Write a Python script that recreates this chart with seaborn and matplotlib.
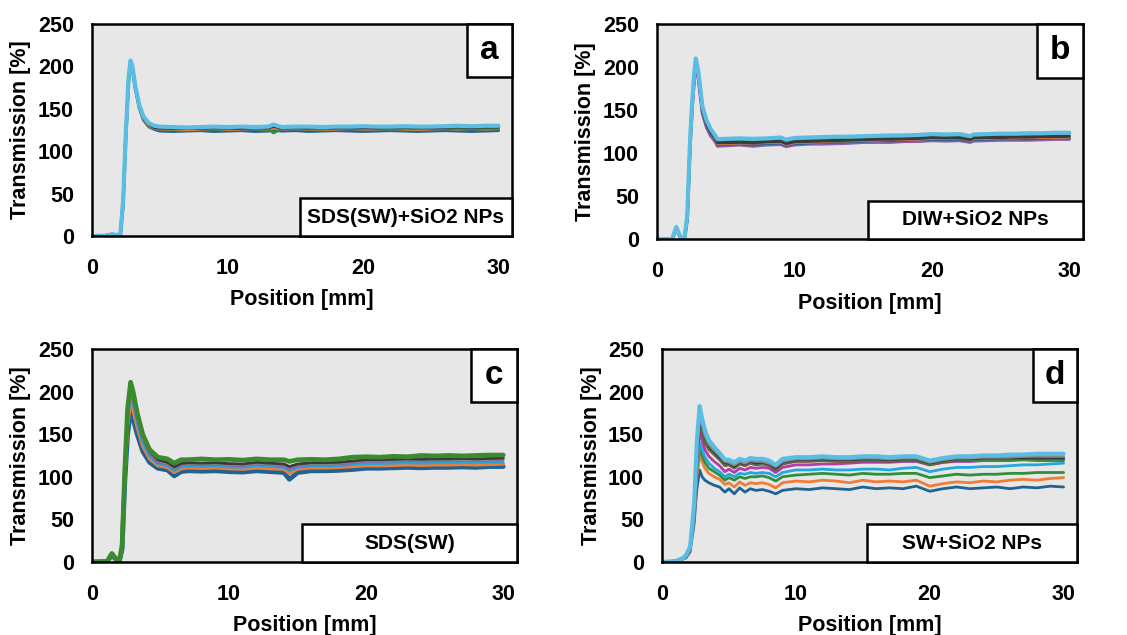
import matplotlib
matplotlib.use("Agg")
import matplotlib.pyplot as plt
from matplotlib.patches import Rectangle
import pandas as pd
import seaborn as sns

# ---------------- data: transmission profiles [%] vs position [mm] ----------------
# (a) SDS(SW)+SiO2 NPs
POS_A = [0, 1.0, 1.5, 1.8, 2.1, 2.3, 2.5, 2.7, 2.85, 3.0, 3.2, 3.5, 3.8, 4.2, 4.6,
         5, 6, 7, 8, 9, 10, 11, 12, 13, 13.4, 14, 15, 16, 17, 18, 19, 20, 21, 22,
         23, 24, 25, 26, 27, 28, 29, 30]
A_BLUE = [0, 0.5, 1.5, 1, 2, 38, 118, 182, 204, 196, 174, 151, 137, 129, 126,
          124, 123.5, 124, 124.5, 123.5, 124, 124.5, 123.5, 124, 125, 124, 124.5, 123.5,
          124, 124.5, 124, 123.5, 124, 124.5, 124, 123.5, 124, 124.5, 124, 123.5, 124, 124.5]
A_ORANGE = [0, 0.5, 2, 1, 2.5, 40, 120, 184, 205, 197, 175, 152, 138, 130, 127,
            126, 125.5, 125, 126, 126.5, 125.5, 126, 126.5, 125.5, 127, 126, 126.5, 126,
            125.5, 126, 126.5, 126, 126, 126.5, 126, 125.5, 126, 126.5, 126, 126.5, 126, 126.5]
A_GREEN = [0, 0.5, 2, 1, 2.5, 39, 119, 183, 205, 197, 175, 152, 139, 131, 127.5,
           126.5, 126, 126.5, 127, 126, 126.5, 127, 126.5, 126, 121.5, 126.5, 127, 126.5,
           126, 127, 126.5, 127, 126.5, 126, 127, 126.5, 127, 126.5, 127, 126.5, 127, 127]
A_DARK = [0, 0.5, 2.5, 1, 3, 41, 121, 186, 206, 198, 177, 154, 140, 132, 128,
          127.5, 127, 127.5, 127, 128, 127.5, 127, 128, 127.5, 129, 127.5, 128, 127.5,
          128, 127.5, 128, 128, 127.5, 128, 128.5, 128, 127.5, 128, 128.5, 128, 128.5, 128.5]
A_CYAN = [0, 0.5, 2, 1, 3, 42, 122, 187, 207, 199, 177, 154, 141, 133, 130,
          129, 128.5, 128, 128.5, 129, 128.5, 129, 128.5, 129, 131.5, 128.5, 129, 129,
          128.5, 129, 129, 129.5, 129, 129, 129.5, 129, 129, 129.5, 130, 129.5, 130, 130]

# (b) DIW+SiO2 NPs
POS_B = [0, 1.1, 1.4, 1.7, 2.0, 2.2, 2.4, 2.55, 2.7, 2.82, 3.0, 3.3, 3.6, 3.9, 4.2, 4.4,
         5, 6, 7, 8, 9, 9.4, 10, 11, 12, 13, 14, 15, 16, 17, 18, 19, 20, 21, 22, 22.8,
         23, 24, 25, 26, 27, 28, 29, 30]
B_PURPLE = [0, 0, 12, 2, 1, 23, 106, 150, 183, 203, 187, 146, 130, 120, 114, 108,
            108.5, 109.5, 108, 109.5, 110, 107.5, 109.5, 110.5, 110.5, 111, 111.5, 112.5,
            112.5, 112.5, 113.5, 113.5, 114.5, 114, 114.5, 112.5, 114, 114.5, 115, 115,
            115, 115.5, 116, 116]
B_BLUE = [0, 0, 12, 2, 1, 24, 108, 152, 185, 205, 189, 148, 132, 122, 116, 110,
          110, 110.5, 109.5, 111, 111.5, 109, 111, 111.5, 112.5, 112.5, 113, 113.5,
          114.5, 114, 114.5, 115.5, 116, 115.5, 116, 113.5, 115.5, 116, 116.5, 116.5,
          116.5, 117, 117.5, 117.5]
B_ORANGE = [0, 0, 13, 2, 1, 25, 109, 154, 187, 206, 190, 149, 133, 123, 117, 111,
            111, 111.5, 111.5, 112, 112.5, 110, 112, 112.5, 113, 114, 114, 114.5,
            115, 115.5, 115.5, 116, 117, 116.5, 117.5, 114.5, 116.5, 117, 117.5, 117.5,
            118, 118, 118, 118.5]
B_DARK = [0, 0, 13, 2, 1, 25, 110, 155, 188, 207, 191, 150, 134, 124, 118, 112,
          112, 112.5, 112, 113, 113.5, 111, 113, 113.5, 114, 114.5, 115, 115.5,
          116, 116, 116.5, 117, 118, 117.5, 118, 115.5, 117.5, 118, 118, 118.5,
          118.5, 119, 119, 119.5]
B_GREEN = [0, 0, 13, 2, 1, 26, 111, 156, 189, 208, 192, 151, 135, 125, 119, 113.5,
           113.5, 114, 113, 114.5, 115, 112.5, 114, 115, 115.5, 116, 116, 117,
           117.5, 117, 118, 118.5, 119.5, 119, 119.5, 117, 119, 119.5, 119.5, 120,
           120, 120.5, 120.5, 121]
B_CYAN = [0, 0, 14, 2, 1, 28, 114, 158, 192, 210, 195, 154, 138, 128, 121, 116,
          116.5, 117, 116.5, 117, 118, 115.5, 117.5, 118, 118.5, 119, 119, 119.5,
          120, 120.5, 120.5, 121, 122, 121.5, 122, 119.5, 121.5, 122, 122.5, 122.5,
          123, 123, 123.5, 123.5]

# (c) SDS(SW)
POS_C = [0, 1.1, 1.45, 1.8, 2.0, 2.2, 2.4, 2.6, 2.82, 3.0, 3.3, 3.7, 4.2, 4.8,
         5.5, 6.0, 6.5, 7, 8, 9, 10, 11, 12, 13, 14, 14.4, 15, 16, 17, 18, 19, 20,
         21, 22, 23, 24, 25, 26, 27, 28, 29, 30]
C_BLUE = [0, 0.5, 8, 2, 1, 15, 95, 150, 178, 168, 150, 130, 117, 110,
          108, 101, 106, 107, 106.5, 107, 106, 105.5, 107, 106, 105, 97, 105, 107,
          107, 107.5, 108.5, 110, 110, 110.5, 111, 110.5, 111, 111, 111.5, 111, 112, 112]
C_ORANGE = [0, 0.5, 9, 2, 1, 16, 100, 160, 188, 178, 158, 136, 121, 113,
            111, 105, 109.5, 110.5, 110, 110.5, 109.5, 109, 110.5, 109.5, 109, 104, 109,
            110.5, 110.5, 111, 112, 113, 113, 113.5, 114, 113.5, 114, 114, 114.5, 114,
            114.5, 115]
C_CYAN = [0, 0.5, 9, 2, 1, 17, 102, 165, 195, 185, 163, 140, 124, 115,
          113, 107, 111.5, 112.5, 112, 112.5, 111.5, 111, 113, 112, 111, 107, 111,
          112.5, 112.5, 113, 114.5, 115.5, 115.5, 116, 116.5, 116, 116.5, 116.5, 117,
          116.5, 117, 117]
C_PURPLE = [0, 0.5, 10, 2, 1, 18, 104, 170, 200, 190, 167, 144, 127, 117,
            115, 109, 113.5, 114.5, 114, 114.5, 113.5, 113, 115, 114, 113, 109, 113,
            114.5, 114.5, 115, 116.5, 118, 118, 118.5, 119, 118.5, 119, 119, 119.5, 119,
            119.5, 120]
C_GREY = [0, 0.5, 10, 2, 1, 19, 106, 173, 203, 193, 170, 146, 129, 119,
          116, 110, 114.5, 115.5, 115, 115.5, 114.5, 114, 116, 115, 114, 111, 114,
          115.5, 115.5, 116, 117.5, 119, 119, 119.5, 120, 119.5, 120, 120, 120.5, 120,
          120.5, 121]
C_DARK = [0, 0.5, 10, 2, 1, 19, 107, 175, 205, 195, 172, 148, 130, 120,
          117, 111.5, 115.5, 116.5, 116, 116.5, 115.5, 115, 117, 116, 115, 112, 115,
          116.5, 116.5, 117, 118.5, 120, 120, 120.5, 121, 120.5, 121, 121, 121.5, 121,
          121.5, 122]
C_GREEN = [0, 0.5, 10, 3, 1, 20, 110, 180, 211, 200, 175, 150, 132, 123,
           121, 116, 120, 120, 121, 120, 120.5, 119.5, 121, 120, 120, 118, 120, 120.5,
           120, 121, 123, 123.5, 123, 124, 123.5, 125, 124.5, 125, 124.5, 125, 125.5, 125.5]

# (d) SW+SiO2 NPs
POS_D = [0, 1.0, 1.5, 1.8, 2.1, 2.4, 2.6, 2.81, 3.0, 3.2, 3.5, 3.9, 4.3, 4.7,
         5.0, 5.4, 5.8, 6.2, 6.6, 7, 7.5, 8, 8.5, 9, 10, 11, 12, 13, 14, 15, 16, 17,
         18, 19, 20, 21, 22, 23, 24, 25, 26, 27, 28, 29, 30]
D_BLUE = [0, 1, 3, 5, 12, 45, 85, 108, 100, 96, 93, 90, 88, 82,
          86, 80, 87, 82, 86, 84, 85, 83, 80, 84, 86, 85, 87, 86, 85, 88, 86, 87, 86,
          89, 83, 86, 88, 86, 87, 88, 86, 88, 87, 89, 88]
D_ORANGE = [0, 1, 3, 6, 14, 52, 100, 125, 118, 110, 104, 100, 97, 91,
            93, 88, 94, 90, 93, 92, 93, 91, 87, 93, 95, 94, 96, 95, 93, 96, 94, 95, 94,
            96, 89, 92, 94, 93, 95, 94, 96, 97, 96, 98, 99]
D_GREEN = [0, 1, 3, 6, 15, 55, 108, 133, 125, 117, 110, 106, 102, 96,
           99, 96, 100, 98, 100, 100, 101, 99, 95, 100, 102, 103, 104, 103, 102, 104,
           103, 103, 104, 104, 99, 101, 103, 102, 103, 103, 104, 104, 105, 105, 105]
D_LIGHTBLUE = [0, 1, 4, 6, 15, 58, 112, 140, 132, 123, 116, 110, 106, 100,
               103, 100, 104, 103, 105, 104, 105, 104, 100, 105, 108, 108, 109, 108, 108,
               109, 109, 108, 110, 111, 106, 109, 111, 111, 112, 112, 113, 114, 114, 115, 116]
D_MAGENTA = [0, 1, 4, 7, 16, 60, 120, 152, 142, 132, 124, 118, 113, 106,
             109, 105, 110, 108, 111, 110, 111, 110, 105, 111, 114, 114, 115, 115, 116,
             117, 117, 117, 118, 118, 114, 117, 118, 118, 119, 119, 119, 120, 120, 120, 120]
D_BROWN = [0, 1, 4, 7, 16, 62, 125, 160, 150, 140, 132, 126, 120, 113,
           114, 110, 115, 113, 116, 114, 115, 113, 108, 115, 118, 118, 119, 118, 118,
           119, 119, 118, 119, 119, 114, 117, 119, 119, 120, 120, 120, 121, 120, 121, 121]
D_GREEN2 = [0, 1, 4, 7, 17, 63, 128, 165, 154, 143, 134, 127, 121, 114,
            115, 111, 116, 114, 117, 115, 116, 114, 109, 116, 119, 119, 120, 119, 119,
            120, 120, 119, 120, 120, 115, 118, 120, 120, 120, 120, 120, 120, 119, 119, 119]
D_DARK = [0, 1, 4, 7, 17, 64, 130, 168, 157, 146, 136, 129, 123, 116,
          116, 112, 117, 115, 118, 116, 117, 115, 110, 117, 120, 120, 121, 120, 120,
          121, 121, 120, 121, 121, 116, 119, 121, 121, 122, 122, 122, 122, 122, 122, 122]
D_GREY = [0, 1, 4, 7, 17, 65, 133, 172, 160, 148, 138, 131, 125, 118,
          117, 114, 118, 116, 119, 118, 118, 116, 112, 118, 121, 121, 122, 121, 121,
          122, 122, 121, 122, 122, 117, 120, 122, 122, 123, 123, 123, 124, 124, 124, 124]
D_CYAN = [0, 1, 4, 8, 18, 68, 140, 183, 168, 155, 143, 135, 128, 120,
          120, 117, 121, 119, 122, 121, 121, 119, 114, 121, 123, 123, 124, 123, 123,
          124, 124, 123, 124, 124, 119, 122, 124, 124, 125, 125, 126, 126, 127, 127, 127]

X_TICKS = [0, 10, 20, 30]
Y_TICKS = [0, 50, 100, 150, 200, 250]
PANEL_TAGS = ["a", "b", "c", "d"]
PANEL_NAMES = ["SDS(SW)+SiO2 NPs", "DIW+SiO2 NPs", "SDS(SW)", "SW+SiO2 NPs"]

# ---------------- style ----------------
sns.set_theme(style="white", rc={"text.color": "black", "axes.labelcolor": "black",
                                 "xtick.color": "black", "ytick.color": "black"})
plt.rcParams["font.family"] = ["Liberation Sans", "DejaVu Sans"]
plt.rcParams["font.weight"] = "bold"

BLUE, ORANGE, GREEN = "#1f6391", "#f27b35", "#2f8f3a"
LBLUE, MAGENTA, BROWN = "#22a7e0", "#b23cb0", "#8b4a3a"
DARK, GREY, CYAN, PURPLE = "#3a3a3a", "#8a8a8a", "#5bbde3", "#8d5fb0"

panels = [
    (POS_A, [(A_BLUE, BLUE, 2.4), (A_ORANGE, ORANGE, 2.0), (A_GREEN, GREEN, 2.0),
             (A_DARK, DARK, 2.0), (A_CYAN, CYAN, 3.0)]),
    (POS_B, [(B_PURPLE, PURPLE, 2.4), (B_BLUE, BLUE, 2.0), (B_ORANGE, ORANGE, 2.0),
             (B_GREEN, GREEN, 2.0), (B_DARK, DARK, 2.2), (B_CYAN, CYAN, 3.0)]),
    (POS_C, [(C_BLUE, BLUE, 3.4), (C_ORANGE, ORANGE, 2.4), (C_CYAN, LBLUE, 2.0),
             (C_PURPLE, PURPLE, 2.0), (C_GREY, GREY, 2.0), (C_DARK, DARK, 2.0),
             (C_GREEN, "#3b8a2f", 3.4)]),
    (POS_D, [(D_BLUE, BLUE, 2.0), (D_ORANGE, ORANGE, 2.0), (D_GREEN, GREEN, 2.0),
             (D_LIGHTBLUE, LBLUE, 2.0), (D_MAGENTA, MAGENTA, 2.0), (D_BROWN, BROWN, 2.0),
             (D_GREEN2, "#3d8c40", 2.0), (D_DARK, DARK, 2.0), (D_GREY, GREY, 2.0),
             (D_CYAN, CYAN, 3.0)]),
]

axes_rects = [
    [0.0816, 0.6283, 0.3727, 0.3339],
    [0.5830, 0.6236, 0.3780, 0.3386],
    [0.0816, 0.1150, 0.3771, 0.3354],
    [0.5874, 0.1150, 0.3682, 0.3354],
]

fig = plt.figure(figsize=(11.27, 6.35), dpi=100)
fig.patch.set_facecolor("white")

for rect, (pos, series), tag, name in zip(axes_rects, panels, PANEL_TAGS, PANEL_NAMES):
    ax = fig.add_axes(rect)
    ax.set_facecolor("#e7e7e7")
    for vals, color, lw in series:
        df = pd.DataFrame({"Position": pos, "Transmission": vals})
        sns.lineplot(data=df, x="Position", y="Transmission", ax=ax, color=color,
                     linewidth=lw, estimator=None, sort=False, legend=False)
    ax.set_xlim(0, 31)
    ax.set_ylim(0, 250)
    ax.set_xticks(X_TICKS)
    ax.set_yticks(Y_TICKS)
    ax.tick_params(axis="both", length=0, labelsize=15.5)
    ax.tick_params(axis="x", pad=16)
    ax.tick_params(axis="y", pad=13)
    for lab in ax.get_xticklabels() + ax.get_yticklabels():
        lab.set_fontweight("bold")
    for sp in ax.spines.values():
        sp.set_color("black")
        sp.set_linewidth(1.8)
        sp.set_visible(True)

    ax.set_xlabel("Position [mm]", fontsize=15.5, fontweight="bold")
    ax.set_ylabel("Transmission [%]", fontsize=15.5, fontweight="bold")
    ax.xaxis.label.set_va("center")
    ax.yaxis.label.set_va("center")
    ax.xaxis.set_label_coords(0.5, -0.30)
    ax.yaxis.set_label_coords(-0.169, 0.5)

    # panel tag box, upper right corner
    tw, th = 0.107, 0.25
    ax.add_patch(Rectangle((1 - tw, 1 - th), tw, th, transform=ax.transAxes,
                           facecolor="white", edgecolor="black", linewidth=1.8,
                           zorder=10, clip_on=False))
    ax.text(1 - tw / 2, 1 - th / 2, tag, transform=ax.transAxes, ha="center",
            va="center", fontsize=24, fontweight="bold", zorder=11)

    # sample name box, lower right corner
    bw, bh = 0.505, 0.178
    ax.add_patch(Rectangle((1 - bw, 0), bw, bh, transform=ax.transAxes,
                           facecolor="white", edgecolor="black", linewidth=1.8,
                           zorder=10, clip_on=False))
    ax.text(1 - bw / 2, bh / 2, name, transform=ax.transAxes, ha="center",
            va="center", fontsize=15, fontweight="bold", zorder=11)

fig.savefig("out.png", dpi=100, facecolor="white")
